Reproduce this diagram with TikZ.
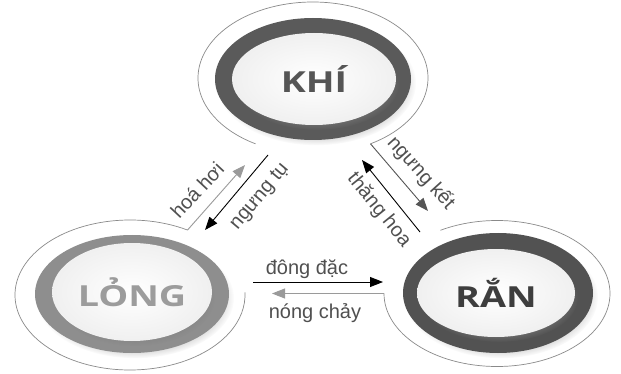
\documentclass[tikz,border=0pt]{standalone}
\usepackage{fontspec}
\setmainfont{Liberation Sans}
\newfontfamily\statefont[FakeStretch=1.3]{Open Sans}
\usetikzlibrary{shapes.geometric,shadows,arrows.meta}

\definecolor{ringK}{HTML}{5A5A5A}
\definecolor{ringL}{HTML}{8E8E8E}
\definecolor{ringR}{HTML}{525252}
\definecolor{textK}{HTML}{555555}
\definecolor{textL}{HTML}{9C9C9C}
\definecolor{textR}{HTML}{3E3E3E}
\definecolor{orbitgray}{HTML}{8A8A8A}
\definecolor{flowgray}{HTML}{9A9A9A}
\definecolor{flowdark}{HTML}{555555}
\definecolor{labelgray}{HTML}{505050}

\begin{document}
\begin{tikzpicture}[x=1pt,y=1pt,
  ringbody/.style={ellipse, inner sep=0pt, fill=#1,
    circular drop shadow={shadow xshift=3pt, shadow yshift=-4pt, shadow scale=1.02, opacity=0.35}},
  discbody/.style={ellipse, inner sep=0pt, shading=radial, inner color=white, outer color=black!6,
    circular drop shadow={shadow xshift=3pt, shadow yshift=-5pt, shadow scale=1.0, opacity=0.5}},
  statetext/.style={font=\statefont\bfseries\fontsize{29}{31}\selectfont, text=#1},
  orbit/.style={draw=orbitgray, line width=0.7pt},
  flow/.style={line width=0.9pt, draw=#1, -{Triangle[length=13pt,width=10pt]}},
  flowlabel/.style={font=\fontsize{20}{22}\selectfont, text=labelgray, inner sep=0pt}]

% page frame
\fill[white] (0,0) rectangle (621,-374);
\useasboundingbox (0,0) rectangle (621,-374);

% centres of the thin outer orbits
\coordinate (khiC) at (313,-78);
\coordinate (longC) at (130,-295);
\coordinate (ranC) at (497,-293.5);

% orbit end points
\path (khiC) ++(-60:115 and 76) coordinate (kR);
\path (khiC) ++(240:115 and 76) coordinate (kL);
\path (longC) ++(60:115 and 75) coordinate (lU);
\path (ranC) ++(180:113 and 73) coordinate (rW);
\path (ranC) ++(120:113 and 73) coordinate (rU);

% thin outer orbits
\draw[orbit] (kR) arc[start angle=-60, end angle=240, x radius=115, y radius=76];
\draw[orbit] (lU) arc[start angle=60, end angle=362, x radius=115, y radius=75];
\draw[orbit] (rW) arc[start angle=180, end angle=480, x radius=113, y radius=73];

% free ends of the transition arrows
\coordinate (hhEnd) at (245,-165);
\coordinate (ntStart) at (268,-155);
\coordinate (ntEnd) at (205,-230);
\coordinate (nkEnd) at (428,-211);
\coordinate (thStart) at (420,-232);
\coordinate (thEnd) at (362,-160);
\coordinate (ddStart) at (253,-282);
\coordinate (ddEnd) at (383,-282);
\coordinate (ncEnd) at (272,-293.5);

% transitions
\draw[flow=flowgray] (lU) -- (hhEnd);
\draw[flow=black] (ntStart) -- (ntEnd);
\draw[flow=flowdark] (kR) -- (nkEnd);
\draw[flow=black] (thStart) -- (thEnd);
\draw[flow=black] (ddStart) -- (ddEnd);
\draw[flow=flowgray] (rW) -- (ncEnd);

% transition labels
\node[flowlabel, rotate=47] (hh) at (197,-190) {hoá hơi};
\node[flowlabel, rotate=50] (nt) at (260,-197) {ngưng tụ};
\node[flowlabel, rotate=-48] (nk) at (421,-173) {ngưng kết};
\node[flowlabel, rotate=-51] (th) at (379,-210) {thăng hoa};
\node[flowlabel] (dd) at (307,-269) {đông đặc};
\node[flowlabel] (nc) at (315,-313) {nóng chảy};

% rings
\node[ringbody=ringK, minimum width=196pt, minimum height=122pt] (khiRing) at (313,-79) {};
\node[ringbody=ringL, minimum width=194pt, minimum height=118pt] (longRing) at (132,-294) {};
\node[ringbody=ringR, minimum width=190pt, minimum height=120pt] (ranRing) at (498,-293) {};

% discs with the state names
\node[discbody, minimum width=164pt, minimum height=92pt, statetext=textK] (khi) at (314,-79) {KHÍ};
\node[discbody, minimum width=160pt, minimum height=98pt, statetext=textL] (long) at (132,-292) {LỎNG};
\node[discbody, minimum width=158pt, minimum height=88pt, statetext=textR] (ran) at (496,-293) {RẮN};
\end{tikzpicture}
\end{document}
